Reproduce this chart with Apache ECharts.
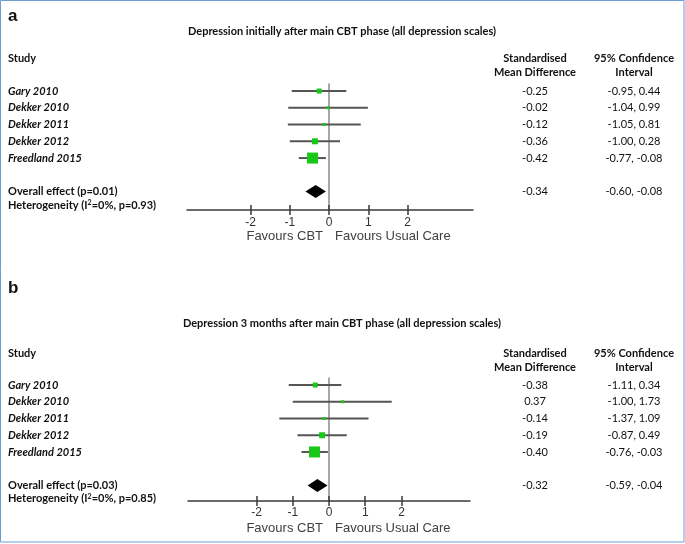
<!DOCTYPE html>
<html><head><meta charset="utf-8">
<script src="https://cdn.jsdelivr.net/npm/echarts@6/dist/echarts.min.js"></script>
<style>html,body{margin:0;padding:0;background:#fff}#c{width:685px;height:544px}</style>
</head><body><div id="c"></div>
<script>
// ---------- data ----------
const studies = ['Gary 2010', 'Dekker 2010', 'Dekker 2011', 'Dekker 2012', 'Freedland 2015'];
const studyRows = [0, 1, 2, 3, 4];
const overallRow = 6;
const hetRow = 6.8;
const tickValues = [-2, -1, 0, 1, 2];

// Panel a: depression initially after main CBT phase
const titleA = 'Depression initially after main CBT phase (all depression scales)';
const smdA = [-0.25, -0.02, -0.12, -0.36, -0.42];
const loA = [-0.95, -1.04, -1.05, -1.00, -0.77];
const hiA = [0.44, 0.99, 0.81, 0.28, -0.08];
const weightA = [5, 3, 3, 6, 11];
const overallA = [-0.34, -0.60, -0.08]; // estimate, lower, upper
const overallPA = '0.01';
const hetA = ['0%', '0.93'];

// Panel b: depression 3 months after main CBT phase
const titleB = 'Depression 3 months after main CBT phase (all depression scales)';
const smdB = [-0.38, 0.37, -0.14, -0.19, -0.40];
const loB = [-1.11, -1.00, -1.37, -0.87, -0.76];
const hiB = [0.34, 1.73, 1.09, 0.49, -0.03];
const weightB = [5, 3, 3, 6, 11];
const overallB = [-0.32, -0.59, -0.04];
const overallPB = '0.03';
const hetB = ['0%', '0.85'];

// ---------- styling ----------
const FC = 'Lato';
const FA = '"Liberation Sans", Arial, sans-serif';
const GREEN = '#18c818';

const chart = echarts.init(document.getElementById('c'), null, {renderer: 'canvas'});

function fmt(v) { return v.toFixed(2); }

function panel(idx, c) {
  const xi = idx * 2, yi = idx * 4;
  const leftMap = {};
  studies.forEach((s, i) => { leftMap[studyRows[i]] = '{it|' + s + '}'; });
  leftMap[overallRow] = '{bd|Overall effect (p=' + c.p + ')}';
  leftMap[hetRow] = '{bd|Heterogeneity (I}{sup|2}{bd|=' + c.het[0] + ', p=' + c.het[1] + ')}';
  const smdMap = {}, ciMap = {};
  studies.forEach((s, i) => {
    smdMap[studyRows[i]] = fmt(c.smd[i]);
    ciMap[studyRows[i]] = fmt(c.lo[i]) + ', ' + fmt(c.hi[i]);
  });
  smdMap[overallRow] = fmt(c.overall[0]);
  ciMap[overallRow] = fmt(c.overall[1]) + ', ' + fmt(c.overall[2]);
  const valueRows = studyRows.concat([overallRow]);

  const grid = {left: c.left, right: c.right, top: c.top, height: c.height,
    containLabel: false, outerBoundsMode: 'none'};
  const xBase = {type: 'value', gridIndex: idx, min: c.xMin, max: c.xMax,
    splitLine: {show: false}};
  const tickLine = {color: '#3a3a3a', width: 1.5};
  const xAxes = [
    Object.assign({}, xBase, {
      position: 'bottom',
      axisLine: {show: true, onZero: false, lineStyle: {color: '#3a3a3a', width: 1.5}},
      axisTick: {show: true, customValues: tickValues, inside: true, length: 5, lineStyle: tickLine},
      axisLabel: {show: true, customValues: tickValues, margin: c.tickMargin, color: '#333',
        fontFamily: FA, fontSize: 12, formatter: v => String(v)}
    }),
    // second axis sits on top of the grid; pulled down onto the bottom line to give downward ticks
    Object.assign({}, xBase, {
      position: 'top', offset: -c.height,
      axisLine: {show: false, onZero: false},
      axisTick: {show: true, customValues: tickValues, inside: true, length: 5, lineStyle: tickLine},
      axisLabel: {show: false}
    })
  ];
  const yBase = {type: 'value', gridIndex: idx, min: c.yMin, max: c.yMax, inverse: true,
    splitLine: {show: false}, axisTick: {show: false}};
  const textBase = {fontFamily: FC, fontSize: 11, color: '#111'};
  const yAxes = [
    Object.assign({}, yBase, {
      axisLine: {show: true, onZero: true, onZeroAxisIndex: xi, lineStyle: {color: '#8a8a8a', width: 1.5}},
      axisLabel: {show: false}
    }),
    Object.assign({}, yBase, {
      position: 'left', axisLine: {show: false, onZero: false},
      axisLabel: {show: true, customValues: valueRows.concat([hetRow]), align: 'left',
        margin: c.left - 8, formatter: v => leftMap[v] || '',
        rich: {
          it: Object.assign({}, textBase, {fontStyle: 'italic', fontWeight: 'bold'}),
          bd: Object.assign({}, textBase, {fontWeight: 'bold'}),
          sup: Object.assign({}, textBase, {fontWeight: 'bold', fontSize: 7, verticalAlign: 'top', padding: [0, 0, 3, 0]})
        }}
    }),
    Object.assign({}, yBase, {
      position: 'right', axisLine: {show: false, onZero: false},
      axisLabel: Object.assign({show: true, customValues: valueRows, align: 'center',
        margin: 535 - (685 - c.right), formatter: v => smdMap[v] || ''}, textBase)
    }),
    Object.assign({}, yBase, {
      position: 'right', axisLine: {show: false, onZero: false},
      axisLabel: Object.assign({show: true, customValues: valueRows, align: 'center',
        margin: 634 - (685 - c.right), formatter: v => ciMap[v] || ''}, textBase)
    })
  ];
  const series = [
    {
      type: 'custom', xAxisIndex: xi, yAxisIndex: yi, coordinateSystem: 'cartesian2d',
      encode: {x: [0, 1], y: 2}, silent: true, z: 2,
      data: studies.map((s, i) => [c.lo[i], c.hi[i], studyRows[i]]),
      renderItem: (params, api) => {
        const p1 = api.coord([api.value(0), api.value(2)]);
        const p2 = api.coord([api.value(1), api.value(2)]);
        return {type: 'line', shape: {x1: p1[0], y1: p1[1], x2: p2[0], y2: p2[1]},
          style: {stroke: '#555', lineWidth: 2}};
      }
    },
    {
      type: 'scatter', xAxisIndex: xi, yAxisIndex: yi, z: 3, silent: true,
      symbol: 'rect',
      symbolSize: (val, params) => c.weight[params.dataIndex],
      itemStyle: {color: GREEN, opacity: 1},
      data: studies.map((s, i) => [c.smd[i], studyRows[i]])
    },
    {
      type: 'custom', xAxisIndex: xi, yAxisIndex: yi, coordinateSystem: 'cartesian2d',
      encode: {x: [0, 1, 2], y: 3}, silent: true, z: 3,
      data: [[c.overall[0], c.overall[1], c.overall[2], overallRow]],
      renderItem: (params, api) => {
        const y = api.value(3);
        const pe = api.coord([api.value(0), y]);
        const pl = api.coord([api.value(1), y]);
        const ph = api.coord([api.value(2), y]);
        const h = 6.5;
        return {type: 'polygon',
          shape: {points: [[pl[0], pl[1]], [pe[0], pe[1] - h], [ph[0], ph[1]], [pe[0], pe[1] + h]]},
          style: {fill: '#000'}};
      }
    }
  ];
  return {grid, xAxes, yAxes, series};
}

const pA = panel(0, {left: 187, right: 212, top: 84, height: 126, xMin: -3.62, xMax: 3.67,
  yMin: -0.42, yMax: 7.1, smd: smdA, lo: loA, hi: hiA, weight: weightA, overall: overallA,
  p: overallPA, het: hetA, tickMargin: 7});
const pB = panel(1, {left: 188, right: 215, top: 378, height: 123, xMin: -3.89, xMax: 3.89,
  yMin: -0.42, yMax: 6.93, smd: smdB, lo: loB, hi: hiB, weight: weightB, overall: overallB,
  p: overallPB, het: hetB, tickMargin: 6});

chart.setOption({
  animation: false,
  backgroundColor: '#fff',
  grid: [pA.grid, pB.grid],
  xAxis: pA.xAxes.concat(pB.xAxes),
  yAxis: pA.yAxes.concat(pB.yAxes),
  series: pA.series.concat(pB.series)
});

// ---------- texts placed around the panels ----------
function txt(x, y, t, o) {
  return {type: 'text', x: x, y: y, silent: true,
    style: Object.assign({text: t, fontFamily: FC, fontSize: 11, fontWeight: 'bold', fill: '#111',
      align: 'left', verticalAlign: 'middle'}, o || {})};
}
function headers(yTitle, yLetter, letter, title, yStudy) {
  return [
    txt(8, yLetter, letter, {fontSize: 17, fontFamily: FA}),
    txt(342, yTitle, title, {align: 'center'}),
    txt(8, yStudy, 'Study'),
    txt(535, yStudy, 'Standardised', {align: 'center'}),
    txt(535, yStudy + 14, 'Mean Difference', {align: 'center'}),
    txt(634, yStudy, '95% Confidence', {align: 'center'}),
    txt(634, yStudy + 14, 'Interval', {align: 'center'})
  ];
}
const zeroA = chart.convertToPixel({xAxisIndex: 0}, 0);
const zeroB = chart.convertToPixel({xAxisIndex: 2}, 0);
const favStyle = {fontFamily: FA, fontSize: 13, fontWeight: 'normal', fill: '#404040'};
const graphics = []
  .concat(headers(31, 16, 'a', titleA, 58))
  .concat(headers(323, 288, 'b', titleB, 353))
  .concat([
    txt(zeroA - 6, 236, 'Favours CBT', Object.assign({align: 'right'}, favStyle)),
    txt(zeroA + 6, 236, 'Favours Usual Care', Object.assign({align: 'left'}, favStyle)),
    txt(zeroB - 6, 528, 'Favours CBT', Object.assign({align: 'right'}, favStyle)),
    txt(zeroB + 6, 528, 'Favours Usual Care', Object.assign({align: 'left'}, favStyle)),
    {type: 'rect', silent: true, shape: {x: 0.5, y: 0.5, width: 683.5, height: 541.5},
      style: {fill: null, stroke: '#6a9fd4', lineWidth: 1}}
  ]);
chart.setOption({graphic: graphics});
</script>
</body></html>
